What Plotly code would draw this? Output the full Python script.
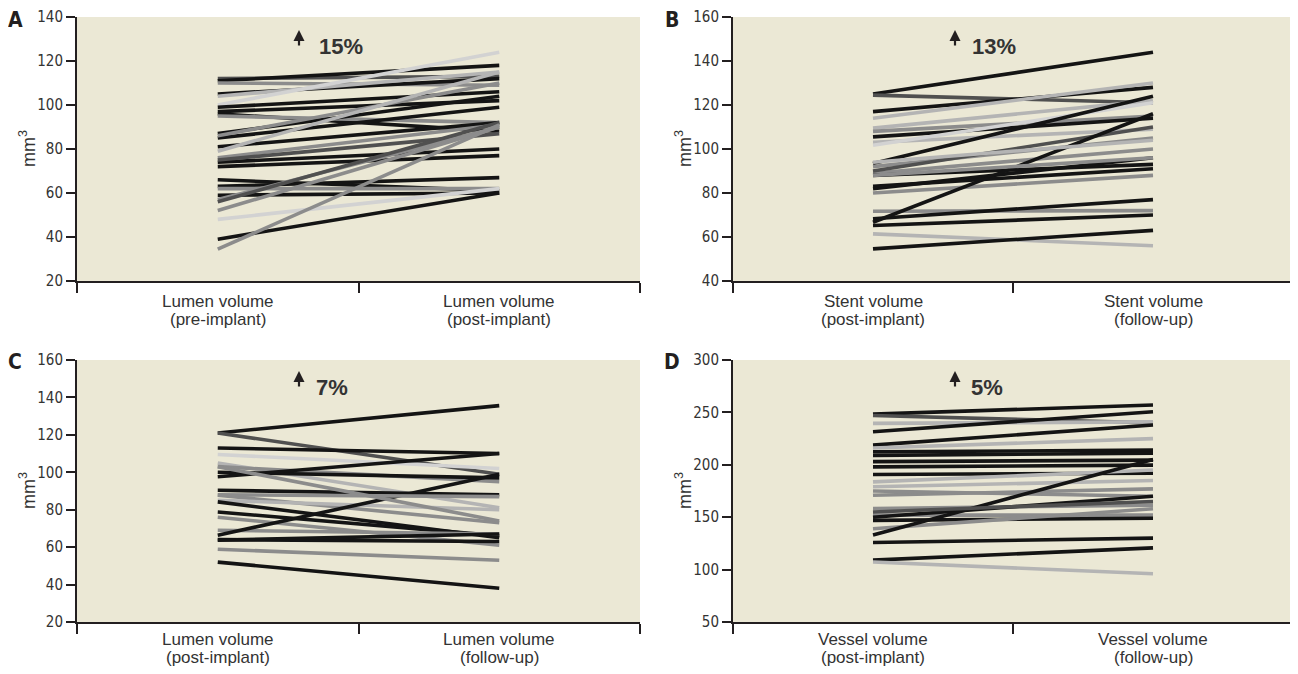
import plotly.graph_objects as go

# ---------------- data ----------------
# Panel A: lumen volume pre-implant -> post-implant (mm3)
a_pre  = [112, 111, 110, 105, 104, 100, 99, 97, 96, 95, 87, 85, 86, 81, 79, 76, 74, 72, 75, 66, 63, 62, 59, 57, 56, 52, 48, 39, 34.5]
a_post = [113, 118, 109, 112, 115, 124, 106, 102, 88, 92, 104, 99, 110, 92, 115, 91, 80, 77, 87, 61, 67, 62, 60, 90, 92, 90, 62, 60, 91]
a_shade = ["d", "k", "m", "k", "l", "v", "k", "k", "k", "m", "k", "k", "m", "k", "l", "m", "k", "k", "d", "k", "k", "m", "k", "m", "d", "m", "v", "k", "m"]

# Panel B: stent volume post-implant -> follow-up (mm3)
b_post = [125, 124.5, 117, 114, 109.5, 108, 105.5, 103, 101.7, 93.4, 92, 89, 88, 90, 82, 80, 71.7, 68.3, 66.7, 65.2, 61.4, 54.6, 83, 94, 88]
b_fu   = [144, 121, 128, 130, 122, 115, 114, 109, 121, 124, 105, 100, 93, 110, 96, 88, 72, 77, 116, 70, 56, 63, 91, 104, 96]
b_shade = ["k", "d", "k", "l", "l", "m", "k", "l", "v", "k", "m", "m", "k", "d", "k", "m", "m", "k", "k", "k", "l", "k", "k", "l", "m"]

# Panel C: lumen volume post-implant -> follow-up (mm3)
c_post = [121, 121, 113, 109.5, 105, 103, 100, 97.6, 90.4, 87.8, 85, 84.2, 78.8, 76, 69, 66.4, 64, 63.7, 58.9, 52, 103, 88]
c_fu   = [135.6, 99, 110, 102, 81, 95, 97, 110, 88, 73, 80, 65, 66, 61, 67, 99, 63, 67, 53, 38, 74, 87]
c_shade = ["k", "d", "k", "v", "l", "m", "k", "k", "k", "m", "l", "k", "k", "m", "m", "k", "k", "k", "m", "k", "m", "m"]

# Panel D: vessel volume post-implant -> follow-up (mm3)
d_post = [248.4, 247, 239.5, 231.5, 218.8, 212.4, 209, 216, 203, 198, 190.8, 183.7, 179, 171, 175, 158.3, 152, 150, 147, 139, 133, 125.8, 109, 107.3, 155]
d_fu   = [257, 240, 241, 250.6, 238, 214, 211, 225, 204.5, 199.7, 192, 195, 185, 177, 170, 161.5, 152, 170, 149, 158, 205, 130, 120.7, 96, 165]
d_shade = ["k", "d", "l", "k", "k", "k", "k", "l", "k", "k", "k", "l", "l", "m", "m", "m", "m", "k", "k", "m", "k", "k", "k", "l", "d"]

cat_a = ["Lumen volume<br>(pre-implant)", "Lumen volume<br>(post-implant)"]
cat_b = ["Stent volume<br>(post-implant)", "Stent volume<br>(follow-up)"]
cat_c = ["Lumen volume<br>(post-implant)", "Lumen volume<br>(follow-up)"]
cat_d = ["Vessel volume<br>(post-implant)", "Vessel volume<br>(follow-up)"]

y_title = "mm<sup>3</sup>"
pct_labels = ["15%", "13%", "7%", "5%"]
panel_letters = ["A", "B", "C", "D"]

# ---------------- style ----------------
SHADES = {"k": "#141414", "d": "#505050", "m": "#8c8c8c", "l": "#b4b4b4", "v": "#d2d2d2"}
BG = "#EBE8D5"
AX = "#231f20"
TXT = "#333333"
OFF = 8                      # page body margin
W, H = 1298 - 2 * OFF, 674 - 2 * OFF

def px2x(px):
    return (px - OFF) / W

def px2y(py):
    return 1 - (py - OFF) / H

fig = go.Figure()

panels = [
    (a_pre, a_post, a_shade, "x", "y"),
    (b_post, b_fu, b_shade, "x2", "y2"),
    (c_post, c_fu, c_shade, "x3", "y3"),
    (d_post, d_fu, d_shade, "x4", "y4"),
]
for s0, s1, sh, xa, ya in panels:
    for v0, v1, c in zip(s0, s1, sh):
        fig.add_trace(go.Scatter(x=[1, 3], y=[v0, v1], mode="lines",
                                 line=dict(color=SHADES[c], width=3.6),
                                 xaxis=xa, yaxis=ya, showlegend=False,
                                 hoverinfo="skip"))

left_x = [px2x(77), px2x(640)]
right_x = [px2x(733), min(1.0, px2x(1290))]
top_y = [px2y(281), px2y(17)]
bot_y = [px2y(622), px2y(360)]

tickfont = dict(family="Liberation Sans Narrow, DejaVu Sans Condensed, Arial Narrow, sans-serif", size=15, color=TXT)
catfont = dict(family="Liberation Sans, Arial, sans-serif", size=17, color=TXT)

def xaxis(dom, anchor, rmax):
    return dict(domain=dom, anchor=anchor, range=[0, rmax], tickmode="array",
                tickvals=[0, 2, 4], ticks="outside", ticklen=10, tickwidth=2,
                tickcolor=AX, showticklabels=False, automargin=False,
                showline=True, linecolor=AX, linewidth=2, showgrid=False,
                zeroline=False, fixedrange=True)

def yaxis(dom, anchor, rng, dt):
    return dict(domain=dom, anchor=anchor, range=rng, dtick=dt, tick0=rng[0],
                ticks="outside", ticklen=9, tickwidth=2, tickcolor=AX,
                tickfont=tickfont, showline=True, linecolor=AX, linewidth=2,
                showgrid=False, zeroline=False, fixedrange=True, automargin=False)

# right panels: keep middle tick at ~1013 px
r_scale = (1013 - 733) / 2.0
r_max = (right_x[1] * W + OFF - 733) / r_scale

fig.update_layout(
    template="none",
    width=W, height=H, margin=dict(l=0, r=0, t=0, b=0),
    paper_bgcolor="white", plot_bgcolor=BG,
    xaxis=xaxis(left_x, "y", 4), yaxis=yaxis(top_y, "x", [20, 140], 20),
    xaxis2=xaxis(right_x, "y2", r_max), yaxis2=yaxis(top_y, "x2", [40, 160], 20),
    xaxis3=xaxis(left_x, "y3", 4), yaxis3=yaxis(bot_y, "x3", [20, 160], 20),
    xaxis4=xaxis(right_x, "y4", r_max), yaxis4=yaxis(bot_y, "x4", [50, 300], 50),
)

ann = []
# category labels (two lines each), placed under the category positions 1 and 3
cat_sets = [(cat_a, "x", 301), (cat_b, "x2", 301), (cat_c, "x3", 639), (cat_d, "x4", 639)]
for cats, xr, ly in cat_sets:
    for xv, label in zip([1, 3], cats):
        for k, line in enumerate(label.split("<br>")):
            ann.append(dict(x=xv, y=px2y(ly + 18 * k), xref=xr, yref="paper", text=line,
                            showarrow=False, xanchor="center", yanchor="middle",
                            font=catfont))

# y-axis titles
for px, py in [(27, 149), (683, 149), (27, 491), (683, 491)]:
    ann.append(dict(x=px2x(px), y=px2y(py), xref="paper", yref="paper", text=y_title,
                    textangle=-90, showarrow=False, xanchor="center", yanchor="middle",
                    font=dict(family="Liberation Sans, Arial, sans-serif", size=18, color=TXT)))

letter_pos = [(15, 20), (672, 20), (15, 362), (672, 362)]
for (px, py), t in zip(letter_pos, panel_letters):
    ann.append(dict(x=px2x(px), y=px2y(py), xref="paper", yref="paper", text=t,
                    showarrow=False, xanchor="center", yanchor="middle",
                    font=dict(family="Liberation Sans Narrow, DejaVu Sans Condensed, sans-serif", size=21, color=AX, weight="bold")))
arrow_pos = [(299, 30), (955, 30), (299, 371), (955, 371)]
pct_pos = [(341, 46), (994, 46), (332, 387), (987, 387)]
for (ax_, ay_), (tx, ty), t in zip(arrow_pos, pct_pos, pct_labels):
    ann.append(dict(x=px2x(ax_), y=px2y(ay_), xref="paper", yref="paper", text="",
                    showarrow=True, ax=0, ay=17, arrowhead=2, arrowsize=1.0,
                    arrowwidth=2.2, arrowcolor=AX, standoff=0, startstandoff=0))
    ann.append(dict(x=px2x(tx), y=px2y(ty), xref="paper", yref="paper", text=t,
                    showarrow=False, xanchor="center", yanchor="middle",
                    font=dict(family="Liberation Sans, Arial, sans-serif", size=22, color=TXT, weight="bold")))
fig.update_layout(annotations=ann)

fig.write_html("out.html")
